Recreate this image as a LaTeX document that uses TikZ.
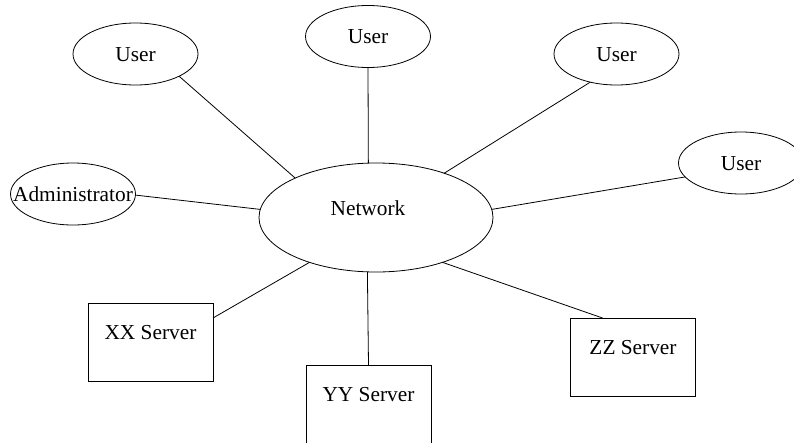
\documentclass[tikz,border=0pt]{standalone}
\usepackage{fontspec}
\setmainfont{Liberation Serif}
\usetikzlibrary{shapes.geometric}
\newcommand{\uptxt}[1]{\makebox[0pt]{\raisebox{7pt}[0pt][0pt]{#1}}}
\tikzset{
  base/.style={draw,line width=0.6pt,inner sep=0pt,outer sep=0pt,
    text height=10.6pt,text depth=0pt,font=\fontsize{16}{19}\selectfont},
  usr/.style={base,ellipse,minimum width=93.75pt,minimum height=46.5pt},
  netw/.style={base,ellipse,minimum width=175.5pt,minimum height=81.75pt},
  srv/.style={base,rectangle,minimum width=93.75pt,minimum height=58.5pt},
  conn/.style={line width=0.6pt}
}
\begin{document}
\begin{tikzpicture}[x=0.75pt,y=-0.75pt]
\useasboundingbox (0,0) rectangle (794,443);
\node[usr] (u1) at (135.5,54) {\makebox[0pt]{User}};
\node[usr] (u2) at (368,36.5) {\makebox[0pt]{User}};
\node[usr] (u3) at (616.5,54) {\makebox[0pt]{User}};
\node[usr] (u4) at (741,163) {\makebox[0pt]{User}};
\node[usr] (adm) at (73,194) {\makebox[0pt]{Administrator}};
\node[netw] (net) at (376,217.5) {\makebox[0pt]{\raisebox{7pt}[0pt][0pt]{\hspace*{-12pt}Network}}};
\node[srv] (xx) at (150.5,342) {\uptxt{XX Server}};
\node[srv] (yy) at (368.5,404) {\uptxt{YY Server}};
\node[srv] (zz) at (633,357) {\uptxt{ZZ Server}};
\draw[conn] (u1.333.2) -- (net.154.8);
\draw[conn] (adm.359) -- (net.176.3);
\draw[conn] (u2.south) -- (net.98.4);
\draw[conn] (u3.227.3) -- (net.33.6);
\draw[conn] (u4.194.5) -- (net.4.2);
\draw[conn] (xx.21) -- (net.214);
\draw[conn] (yy.north) -- (net.261.6);
\draw[conn] (zz.128.5) -- (net.326.4);
\end{tikzpicture}
\end{document}
